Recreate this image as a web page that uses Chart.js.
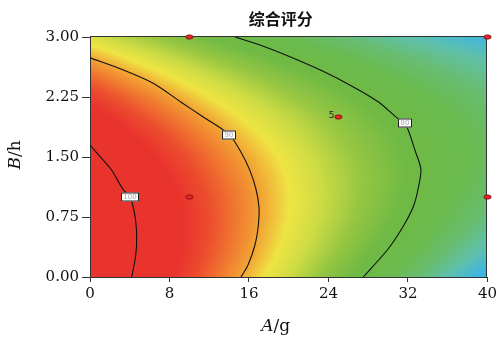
<!DOCTYPE html>
<html lang="zh">
<head>
<meta charset="UTF-8">
<title>综合评分</title>
<script src="https://cdn.jsdelivr.net/npm/chart.js@4.4.0/dist/chart.umd.min.js"></script>
<style>
  html, body { margin: 0; padding: 0; background: #fff; }
  #wrap { width: 500px; height: 342px; }
</style>
</head>
<body>
<div id="wrap"><canvas id="graph"></canvas></div>
<script>
// grid of the response surface
const aValues = [0, 4, 8, 12, 16, 20, 24, 28, 32, 36, 40];
const bValues = [0, 0.25, 0.5, 0.75, 1.0, 1.25, 1.5, 1.75, 2.0, 2.25, 2.5, 2.75, 3.0];
// one row per B value (bottom to top), one column per A value
const scoreGrid = [
  [104.1, 100.2, 96.4, 92.8, 89.3, 86.0, 82.7, 79.6, 76.7, 73.8, 71.1],
  [104.3, 100.6, 97.0, 93.5, 90.2, 86.9, 83.9, 80.9, 78.1, 75.4, 72.9],
  [104.3, 100.7, 97.2, 93.9, 90.7, 87.6, 84.7, 81.9, 79.3, 76.7, 74.3],
  [103.9, 100.4, 97.1, 94.0, 90.9, 88.0, 85.3, 82.6, 80.1, 77.7, 75.5],
  [103.2, 99.9, 96.8, 93.8, 90.9, 88.1, 85.5, 83.0, 80.6, 78.4, 76.3],
  [102.2, 99.1, 96.1, 93.2, 90.5, 87.9, 85.4, 83.1, 80.9, 78.8, 76.8],
  [100.9, 97.9, 95.1, 92.4, 89.8, 87.4, 85.0, 82.8, 80.8, 78.9, 77.1],
  [99.3, 96.5, 93.8, 91.2, 88.8, 86.5, 84.3, 82.3, 80.4, 78.6, 77.0],
  [97.4, 94.7, 92.2, 89.8, 87.5, 85.4, 83.4, 81.5, 79.7, 78.1, 76.6],
  [95.2, 92.7, 90.3, 88.0, 85.9, 83.9, 82.1, 80.3, 78.7, 77.3, 75.9],
  [92.7, 90.3, 88.1, 86.0, 84.0, 82.2, 80.5, 78.9, 77.4, 76.1, 74.9],
  [89.9, 87.7, 85.6, 83.6, 81.8, 80.1, 78.6, 77.1, 75.8, 74.7, 73.6],
  [86.8, 84.7, 82.8, 81.0, 79.3, 77.7, 76.3, 75.1, 73.9, 72.9, 72.0]
];

// contour lines (A, B)
const contour100 = [
  {x: 0, y: 1.65}, {x: 0.9, y: 1.52}, {x: 2.1, y: 1.35}, {x: 3.3, y: 1.1},
  {x: 4.0, y: 1.0}, {x: 4.3, y: 0.9}, {x: 4.6, y: 0.7}, {x: 4.7, y: 0.48},
  {x: 4.6, y: 0.27}, {x: 4.2, y: 0}
];
const contour90 = [
  {x: 0, y: 2.74}, {x: 3.1, y: 2.6}, {x: 6.4, y: 2.42}, {x: 9.1, y: 2.19},
  {x: 11.4, y: 2.0}, {x: 14.0, y: 1.78}, {x: 15.2, y: 1.56}, {x: 16.1, y: 1.33},
  {x: 16.7, y: 1.1}, {x: 17.0, y: 0.88}, {x: 16.95, y: 0.66}, {x: 16.6, y: 0.4},
  {x: 15.9, y: 0.15}, {x: 15.2, y: 0}
];
const contour80 = [
  {x: 14.6, y: 3.0}, {x: 17.1, y: 2.9}, {x: 20.0, y: 2.76}, {x: 23.3, y: 2.58},
  {x: 26.6, y: 2.37}, {x: 29.0, y: 2.19}, {x: 31.0, y: 1.98}, {x: 31.7, y: 1.93},
  {x: 32.8, y: 1.55}, {x: 33.3, y: 1.35}, {x: 33.1, y: 1.15}, {x: 32.6, y: 0.9},
  {x: 31.6, y: 0.65}, {x: 30.0, y: 0.35}, {x: 27.5, y: 0}
];
const contourLabels = [
  {x: 4.0, y: 1.0, text: '100'},
  {x: 14.0, y: 1.78, text: '90'},
  {x: 31.7, y: 1.93, text: '80'}
];

// design points
const designPoints = [
  {x: 10, y: 3}, {x: 10, y: 1}, {x: 25, y: 2}, {x: 40, y: 3}, {x: 40, y: 1}
];
const centerRuns = {x: 25, y: 2, text: '5'};

const xTicks = [0, 8, 16, 24, 32, 40];
const yTicks = [0, 0.75, 1.5, 2.25, 3];

// colour ramp: value, r, g, b
const colourStops = [
  [70, 42, 172, 236],
  [72, 62, 182, 224],
  [74, 96, 192, 168],
  [76, 104, 189, 112],
  [78, 106, 186, 78],
  [81, 112, 186, 68],
  [83.5, 150, 198, 66],
  [86, 206, 220, 68],
  [88, 238, 228, 68],
  [90, 242, 164, 52],
  [92, 240, 118, 48],
  [94, 236, 76, 46],
  [96, 233, 52, 46],
  [120, 233, 50, 46]
];

function colourFor(z) {
  if (z <= colourStops[0][0]) return colourStops[0].slice(1);
  for (let i = 1; i < colourStops.length; i++) {
    const s1 = colourStops[i];
    if (z <= s1[0]) {
      const s0 = colourStops[i - 1];
      const t = (z - s0[0]) / (s1[0] - s0[0]);
      return [1, 2, 3].map(k => s0[k] + (s1[k] - s0[k]) * t);
    }
  }
  return colourStops[colourStops.length - 1].slice(1);
}

function findCell(arr, v) {
  let i = 0;
  while (i < arr.length - 2 && v > arr[i + 1]) i++;
  let t = (v - arr[i]) / (arr[i + 1] - arr[i]);
  return [i, Math.max(0, Math.min(1, t))];
}

function sampleGrid(a, b) {
  const [i, ta] = findCell(aValues, a);
  const [j, tb] = findCell(bValues, b);
  const z00 = scoreGrid[j][i], z10 = scoreGrid[j][i + 1];
  const z01 = scoreGrid[j + 1][i], z11 = scoreGrid[j + 1][i + 1];
  return (z00 * (1 - ta) + z10 * ta) * (1 - tb) + (z01 * (1 - ta) + z11 * ta) * tb;
}

const heatmapPlugin = {
  id: 'heatmap',
  beforeDatasetsDraw(chart) {
    const {ctx, chartArea: ca, scales: {x, y}} = chart;
    const w = Math.round(ca.right - ca.left), h = Math.round(ca.bottom - ca.top);
    const off = document.createElement('canvas');
    off.width = w; off.height = h;
    const octx = off.getContext('2d');
    const img = octx.createImageData(w, h);
    for (let j = 0; j < h; j++) {
      const b = y.getValueForPixel(ca.top + j + 0.5);
      for (let i = 0; i < w; i++) {
        const a = x.getValueForPixel(ca.left + i + 0.5);
        const c = colourFor(sampleGrid(a, b));
        const p = (j * w + i) * 4;
        img.data[p] = c[0]; img.data[p + 1] = c[1]; img.data[p + 2] = c[2]; img.data[p + 3] = 255;
      }
    }
    octx.putImageData(img, 0, 0);
    ctx.drawImage(off, ca.left, ca.top);
    // frame
    ctx.save();
    ctx.strokeStyle = '#333';
    ctx.lineWidth = 1;
    ctx.strokeRect(Math.round(ca.left) + 0.5, Math.round(ca.top) - 0.5,
      Math.round(ca.right - ca.left) - 1, Math.round(ca.bottom - ca.top) + 1);
    ctx.restore();
  },
  afterDatasetsDraw(chart) {
    const {ctx, scales: {x, y}} = chart;
    ctx.save();
    contourLabels.forEach(l => {
      const px = Math.round(x.getPixelForValue(l.x)), py = Math.round(y.getPixelForValue(l.y));
      const bw = l.text.length > 2 ? 18 : 14, bh = 9;
      ctx.fillStyle = '#fff';
      ctx.fillRect(px - bw / 2, py - bh / 2, bw, bh);
      ctx.strokeStyle = '#222';
      ctx.lineWidth = 1;
      ctx.strokeRect(px - bw / 2 + 0.5, py - bh / 2 + 0.5, bw - 1, bh - 1);
      ctx.fillStyle = '#aaa';
      ctx.font = '7px "DejaVu Sans"';
      ctx.textAlign = 'center';
      ctx.textBaseline = 'middle';
      ctx.fillText(l.text, px, py + 0.5);
    });
    ctx.fillStyle = '#222';
    ctx.font = '9px "DejaVu Sans"';
    ctx.textAlign = 'right';
    ctx.textBaseline = 'middle';
    ctx.fillText(centerRuns.text, x.getPixelForValue(centerRuns.x) - 4, y.getPixelForValue(centerRuns.y) - 1);
    ctx.restore();
  },
  afterDraw(chart) {
    const {ctx, chartArea: ca} = chart;
    const cx = (ca.left + ca.right) / 2;
    ctx.save();
    ctx.fillStyle = '#111';
    ctx.textBaseline = 'middle';
    ctx.textAlign = 'center';
    ctx.font = 'bold 16px "Noto Sans CJK SC"';
    ctx.fillText('综合评分', cx - 8, 19);

    // A/g with italic A
    ctx.textAlign = 'left';
    const fi = 'italic 17px "DejaVu Serif"', fn = '17px "DejaVu Serif"';
    ctx.font = fi; const wA = ctx.measureText('A').width;
    ctx.font = fn; const wR = ctx.measureText('/g').width;
    let sx = cx - 13 - (wA + wR) / 2;
    ctx.font = fi; ctx.fillText('A', sx, 327);
    ctx.font = fn; ctx.fillText('/g', sx + wA, 327);

    // B/h rotated
    ctx.translate(16, (ca.top + ca.bottom) / 2 - 2);
    ctx.rotate(-Math.PI / 2);
    ctx.font = fi; const wB = ctx.measureText('B').width;
    ctx.font = fn; const wH = ctx.measureText('/h').width;
    sx = -(wB + wH) / 2;
    ctx.font = fi; ctx.fillText('B', sx, 0);
    ctx.font = fn; ctx.fillText('/h', sx + wB, 0);
    ctx.restore();
  }
};

// ellipse marker for design points
const marker = document.createElement('canvas');
marker.width = 9; marker.height = 6;
(function () {
  const m = marker.getContext('2d');
  m.fillStyle = '#e02a2a';
  m.strokeStyle = '#8a1010';
  m.lineWidth = 1;
  m.beginPath();
  m.ellipse(4.5, 3, 3.6, 2.1, 0, 0, Math.PI * 2);
  m.fill();
  m.stroke();
})();

const contourStyle = {
  showLine: true, pointRadius: 0, borderColor: '#111', borderWidth: 1.1,
  tension: 0.3, fill: false
};

const ctx = document.getElementById('graph').getContext('2d');
new Chart(ctx, {
  type: 'scatter',
  data: {
    datasets: [
      {label: 'points', data: designPoints, pointStyle: marker, pointRadius: 4, clip: false},
      Object.assign({label: '100', data: contour100}, contourStyle),
      Object.assign({label: '90', data: contour90}, contourStyle),
      Object.assign({label: '80', data: contour80}, contourStyle)
    ]
  },
  options: {
    responsive: true,
    maintainAspectRatio: false,
    animation: false,
    layout: {padding: {top: 37, right: 10, left: 0, bottom: 0}},
    plugins: {legend: {display: false}, tooltip: {enabled: false}},
    scales: {
      x: {
        type: 'linear', min: 0, max: 40,
        afterBuildTicks: s => { s.ticks = xTicks.map(v => ({value: v})); },
        afterFit: s => { s.height = 65; },
        ticks: {color: '#111', font: {family: 'DejaVu Serif', size: 15}, padding: 3},
        grid: {drawOnChartArea: false, tickLength: 5, color: '#333'},
        border: {display: true, color: '#333'}
      },
      y: {
        type: 'linear', min: 0, max: 3,
        afterBuildTicks: s => { s.ticks = yTicks.map(v => ({value: v})); },
        afterFit: s => { s.width = 90; },
        ticks: {color: '#111', font: {family: 'DejaVu Serif', size: 15}, padding: 3,
          callback: v => v.toFixed(2)},
        grid: {drawOnChartArea: false, tickLength: 8, color: '#333'},
        border: {display: true, color: '#333'}
      }
    }
  },
  plugins: [heatmapPlugin]
});
</script>
</body>
</html>
